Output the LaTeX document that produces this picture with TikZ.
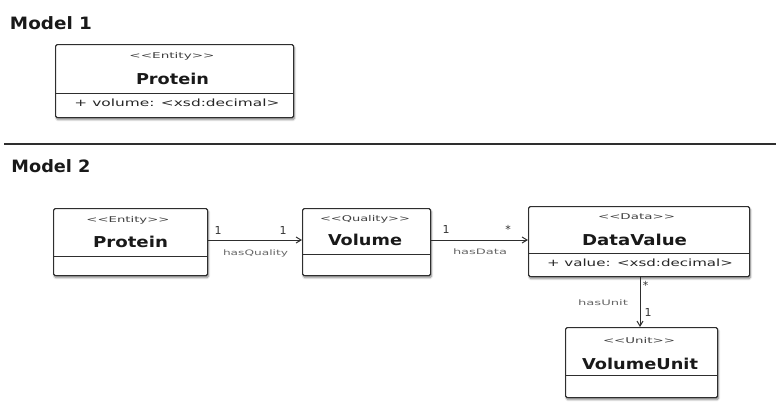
\documentclass[tikz,border=0pt]{standalone}
\usepackage{fontspec}
\setmainfont{DejaVu Sans}
\usetikzlibrary{arrows.meta,shadows.blur}
\newcommand\fitw[2]{\resizebox{#1}{\height}{#2}}
\newcommand\stL{<\kern0pt<}
\newcommand\stR{>\kern0pt>}
\definecolor{linegray}{HTML}{2E2E2E}
\definecolor{labgray}{HTML}{666666}
\tikzset{
  umlbox/.style={draw=linegray, line width=1.2pt, rounded corners=1.5pt, fill=white,
    rectangle, inner sep=0pt, anchor=north west,
    blur shadow={shadow xshift=0.8pt, shadow yshift=-2pt, shadow blur steps=6, shadow opacity=50, shadow blur radius=2pt}},
  divline/.style={draw=linegray, line width=1pt},
  stereo/.style={inner sep=0pt, text=black!75, font=\fontsize{8}{9}\selectfont},
  cname/.style={inner sep=0pt, text=black!90, font=\fontsize{15}{16}\selectfont\bfseries},
  attr/.style={inner sep=0pt, text=black!85, font=\fontsize{10}{11}\selectfont},
  title/.style={inner sep=0pt, text=black!90, font=\fontsize{17}{18}\selectfont\bfseries},
  role/.style={inner sep=0pt, text=labgray, font=\fontsize{7.5}{8}\selectfont},
  mult/.style={inner sep=0pt, text=black!80, font=\fontsize{11}{12}\selectfont},
  assoc/.style={draw=linegray, line width=1pt, -{Straight Barb[length=5pt,width=6pt]}}
}
\begin{document}
\begin{tikzpicture}[x=1pt,y=-1pt]
\useasboundingbox (0,0) rectangle (776,402);

% Titles
\node[title] (m1) at (51,23) {\fitw{82pt}{Model 1}};
\node[title] (m2) at (51,166) {\fitw{79pt}{Model 2}};

% Separator
\coordinate (sepL) at (4,144);
\coordinate (sepR) at (776,144);
\draw[draw=linegray, line width=1.3pt] (sepL) -- (sepR);

% Model 1 Protein
\node[umlbox, minimum width=238pt, minimum height=73pt] (p1) at (55,44) {};
\draw[divline] (p1.west |- 0,93) -- (p1.east |- 0,93);
\node[stereo] (p1s) at (172,56) {\fitw{85pt}{\stL Entity\stR}};
\node[cname] (p1n) at (172.5,79) {\fitw{73pt}{Protein}};
\node[attr] (p1a) at (177,103) {\fitw{205pt}{+ volume: <xsd:decimal>}};

% Model 2 Protein
\node[umlbox, minimum width=154pt, minimum height=67pt] (p2) at (53,208) {};
\draw[divline] (p2.west |- 0,256) -- (p2.east |- 0,256);
\node[stereo] (p2s) at (128,220) {\fitw{83pt}{\stL Entity\stR}};
\node[cname] (p2n) at (130.5,242) {\fitw{75pt}{Protein}};

% Volume
\node[umlbox, minimum width=128pt, minimum height=67pt] (vol) at (302,208) {};
\draw[divline] (vol.west |- 0,254) -- (vol.east |- 0,254);
\node[stereo] (vols) at (365,219) {\fitw{90pt}{\stL Quality\stR}};
\node[cname] (voln) at (365,240) {\fitw{74pt}{Volume}};

% DataValue
\node[umlbox, minimum width=221pt, minimum height=70pt] (dv) at (528,206) {};
\draw[divline] (dv.west |- 0,253) -- (dv.east |- 0,253);
\node[stereo] (dvs) at (636.5,217) {\fitw{77pt}{\stL Data\stR}};
\node[cname] (dvn) at (634.5,240) {\fitw{105pt}{DataValue}};
\node[attr] (dva) at (640,263) {\fitw{186pt}{+ value: <xsd:decimal>}};

% VolumeUnit
\node[umlbox, minimum width=152pt, minimum height=70pt] (vu) at (565,327) {};
\draw[divline] (vu.west |- 0,375) -- (vu.east |- 0,375);
\node[stereo] (vus) at (639,341) {\fitw{72pt}{\stL Unit\stR}};
\node[cname] (vun) at (640,364) {\fitw{116pt}{VolumeUnit}};

% Associations
\draw[assoc] (p2.east |- 0,240) -- (vol.west |- 0,240);
\node[mult] (m11) at (218,230) {1};
\node[mult] (m12) at (283,230) {1};
\node[role] (rq) at (255.5,253) {\fitw{65pt}{hasQuality}};

\draw[assoc] (vol.east |- 0,240) -- (dv.west |- 0,240);
\node[mult] (m21) at (446,229) {1};
\node[mult] (m22) at (508,229) {*};
\node[role] (rd) at (480,252) {\fitw{54pt}{hasData}};

\draw[assoc] (dv.south -| 640,0) -- (vu.north -| 640,0);
\node[mult] (m31) at (645.5,285) {*};
\node[mult] (m32) at (648,312) {1};
\node[role] (ru) at (603,303) {\fitw{50pt}{hasUnit}};
\end{tikzpicture}
\end{document}
